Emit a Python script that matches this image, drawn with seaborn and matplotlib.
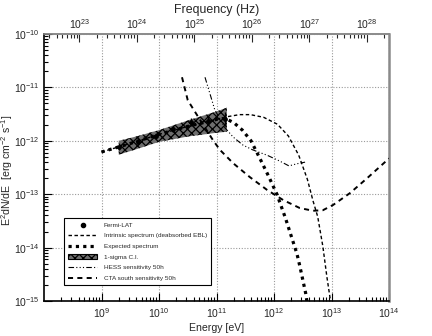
import numpy as np
import matplotlib
matplotlib.use("Agg")
import matplotlib.pyplot as plt
from matplotlib.lines import Line2D
from matplotlib.patches import Patch
import seaborn as sns

# values (log10 energy [eV], log10 E^2 dN/dE [erg cm-2 s-1])
fermi_logE = [9.30, 9.63, 9.94, 10.24, 10.55, 10.85, 11.14]
fermi_logF = [-12.12, -12.02, -11.91, -11.78, -11.65, -11.62, -11.59]
fermi_err = [0.05, 0.05, 0.05, 0.06, 0.08, 0.09, 0.13]

ci_logE = [9.30, 9.60, 10.00, 10.50, 11.00, 11.18]
ci_upper = [-12.00, -11.92, -11.80, -11.62, -11.45, -11.38]
ci_lower = [-12.26, -12.16, -12.02, -11.92, -11.85, -11.83]

intr_logE = [9.0, 9.5, 10.0, 10.5, 11.0, 11.18, 11.40, 11.59, 11.82, 12.06, 12.25,
             12.43, 12.58, 12.68, 12.76, 12.85, 12.92, 12.99, 13.02]
intr_logF = [-12.21, -12.05, -11.88, -11.73, -11.60, -11.55, -11.51, -11.51, -11.56,
             -11.69, -11.91, -12.27, -12.72, -13.13, -13.42, -13.98, -14.55, -15.05, -15.3]

exp_logE = [9.0, 9.5, 10.0, 10.5, 11.0, 11.15, 11.30, 11.45, 11.60, 11.75, 11.90,
            12.05, 12.20, 12.40, 12.45, 12.55, 12.60]
exp_logF = [-12.21, -12.05, -11.88, -11.73, -11.60, -11.58, -11.66, -11.80, -12.00,
            -12.32, -12.65, -13.00, -13.45, -14.12, -14.35, -14.85, -15.2]

hess_logE = [10.80, 10.97, 11.15, 11.29, 11.46, 11.63, 11.88, 12.10, 12.26, 12.40, 12.54]
hess_logF = [-10.81, -11.42, -11.76, -11.93, -12.08, -12.17, -12.27, -12.38, -12.47,
             -12.43, -12.40]

cta_logE = [10.40, 10.50, 10.68, 10.94, 11.06, 11.29, 11.58, 11.88, 12.16, 12.45,
            12.68, 12.85, 13.03, 13.32, 13.62, 13.97, 14.0]
cta_logF = [-10.81, -11.24, -11.55, -11.99, -12.17, -12.42, -12.68, -12.92, -13.11,
            -13.26, -13.31, -13.30, -13.20, -12.98, -12.70, -12.36, -12.33]

xticks = [1e9, 1e10, 1e11, 1e12, 1e13, 1e14]
yticks = [1e-15, 1e-14, 1e-13, 1e-12, 1e-11, 1e-10]
freq_ticks = [1e23, 1e24, 1e25, 1e26, 1e27, 1e28]
EV_TO_HZ = 2.418e14

sns.set_style("ticks")
plt.rcParams['font.family'] = ['Liberation Sans', 'DejaVu Sans']
plt.rcParams['mathtext.fontset'] = 'custom'
plt.rcParams['mathtext.rm'] = 'Liberation Sans'
plt.rcParams['mathtext.it'] = 'Liberation Sans:italic'
plt.rcParams['hatch.linewidth'] = 0.9

def p10(v):
    return 10 ** np.asarray(v, dtype=float)

fig = plt.figure(figsize=(4.32, 3.36), dpi=100)
ax = fig.add_axes([44 / 432, 1 - 301 / 336, 345 / 432, 267 / 336])
ax.set_xscale('log')
ax.set_yscale('log')

# 1-sigma butterfly
ax.fill_between(p10(ci_logE), p10(ci_lower), p10(ci_upper), facecolor='#6e6e6e',
                hatch='xxxx', edgecolor='black', linewidth=0, zorder=2)

sns.lineplot(x=p10(intr_logE), y=p10(intr_logF), ax=ax, color='black', linewidth=1.0,
             linestyle=(0, (2.5, 1.8)), zorder=3)
sns.lineplot(x=p10(exp_logE), y=p10(exp_logF), ax=ax, color='black', linewidth=2.3,
             linestyle=(0, (1, 1.3)), zorder=3)
sns.lineplot(x=p10(hess_logE), y=p10(hess_logF), ax=ax, color='black', linewidth=0.8,
             linestyle=(0, (5, 2, 1, 2, 1, 2, 1, 2)), zorder=3)
sns.lineplot(x=p10(cta_logE), y=p10(cta_logF), ax=ax, color='black', linewidth=1.4,
             linestyle=(0, (2.6, 2.2)), zorder=3)

fE, fF = p10(fermi_logE), p10(fermi_logF)
ferr = np.asarray(fermi_err)
ax.errorbar(fE, fF, yerr=[fF - fF / 10 ** ferr, fF * 10 ** ferr - fF], fmt='none',
            ecolor='black', elinewidth=1.0, capsize=0, zorder=4)
sns.scatterplot(x=fE, y=fF, ax=ax, color='black', s=12, edgecolor='black',
                linewidth=0, zorder=5)

ax.set_xlim(1e8, 1e14)
ax.set_ylim(1e-15, 1e-10)
ax.set_xticks(xticks)
ax.set_yticks(yticks)
ax.grid(which='major', linestyle=(0, (1, 1.5)), color='#9a9a9a', linewidth=0.8)
ax.tick_params(which='both', direction='in', top=False, right=False, labelsize=7.5,
               width=0.8, color='black')
ax.tick_params(which='major', length=6)
ax.tick_params(which='minor', length=3)
ax.tick_params(axis='x', pad=4)
ax.tick_params(axis='y', pad=3)

for side in ['left', 'bottom']:
    ax.spines[side].set_color('black')
    ax.spines[side].set_linewidth(1.2)
ax.spines['right'].set_color('#8a8a8a')
ax.spines['right'].set_linewidth(1.8)
ax.spines['top'].set_color('#8a8a8a')
ax.spines['top'].set_linewidth(1.2)

ax.set_xlabel('Energy [eV]', fontsize=7.6, labelpad=2)
ax.set_ylabel(r'E$^{2}$dN/dE  [erg cm$^{-2}$ s$^{-1}$]', fontsize=7.6)
ax.yaxis.set_label_coords(-0.083, 0.49)

sec = ax.secondary_xaxis('top', functions=(lambda e: e * EV_TO_HZ, lambda n: n / EV_TO_HZ))
sec.set_xticks(freq_ticks)
sec.tick_params(which='both', direction='in', labelsize=7.5, pad=2, width=0.8)
sec.tick_params(which='major', length=6)
sec.tick_params(which='minor', length=3)
sec.spines['top'].set_color('#8a8a8a')
sec.spines['top'].set_linewidth(1.2)
sec.set_xlabel('Frequency (Hz)', fontsize=8.9, labelpad=3)

handles = [
    Line2D([], [], color='black', marker='o', markersize=3.0, linestyle='none'),
    Line2D([], [], color='black', linewidth=1.0, linestyle=(0, (2.5, 1.8))),
    Line2D([], [], color='black', linewidth=2.3, linestyle=(0, (1, 1.3))),
    Patch(facecolor='#6e6e6e', hatch='xxxx', edgecolor='black', linewidth=0.8),
    Line2D([], [], color='black', linewidth=0.8, linestyle=(0, (5, 2, 1, 2, 1, 2, 1, 2))),
    Line2D([], [], color='black', linewidth=1.4, linestyle=(0, (2.6, 2.2))),
]
labels = ['Fermi-LAT', 'Intrinsic spectrum (deabsorbed EBL)', 'Expected spectrum',
          '1-sigma C.I.', 'HESS sensitivity 50h', 'CTA south sensitivity 50h']
leg = ax.legend(handles, labels, loc='upper left', bbox_to_anchor=(0.058, 0.311),
                borderaxespad=0, fontsize=4.6, labelspacing=0.8, handlelength=4.4,
                handletextpad=1.1, borderpad=0.7, fancybox=False, framealpha=1,
                edgecolor='black')
leg.get_frame().set_linewidth(0.8)

fig.savefig('out.png', dpi=100)
